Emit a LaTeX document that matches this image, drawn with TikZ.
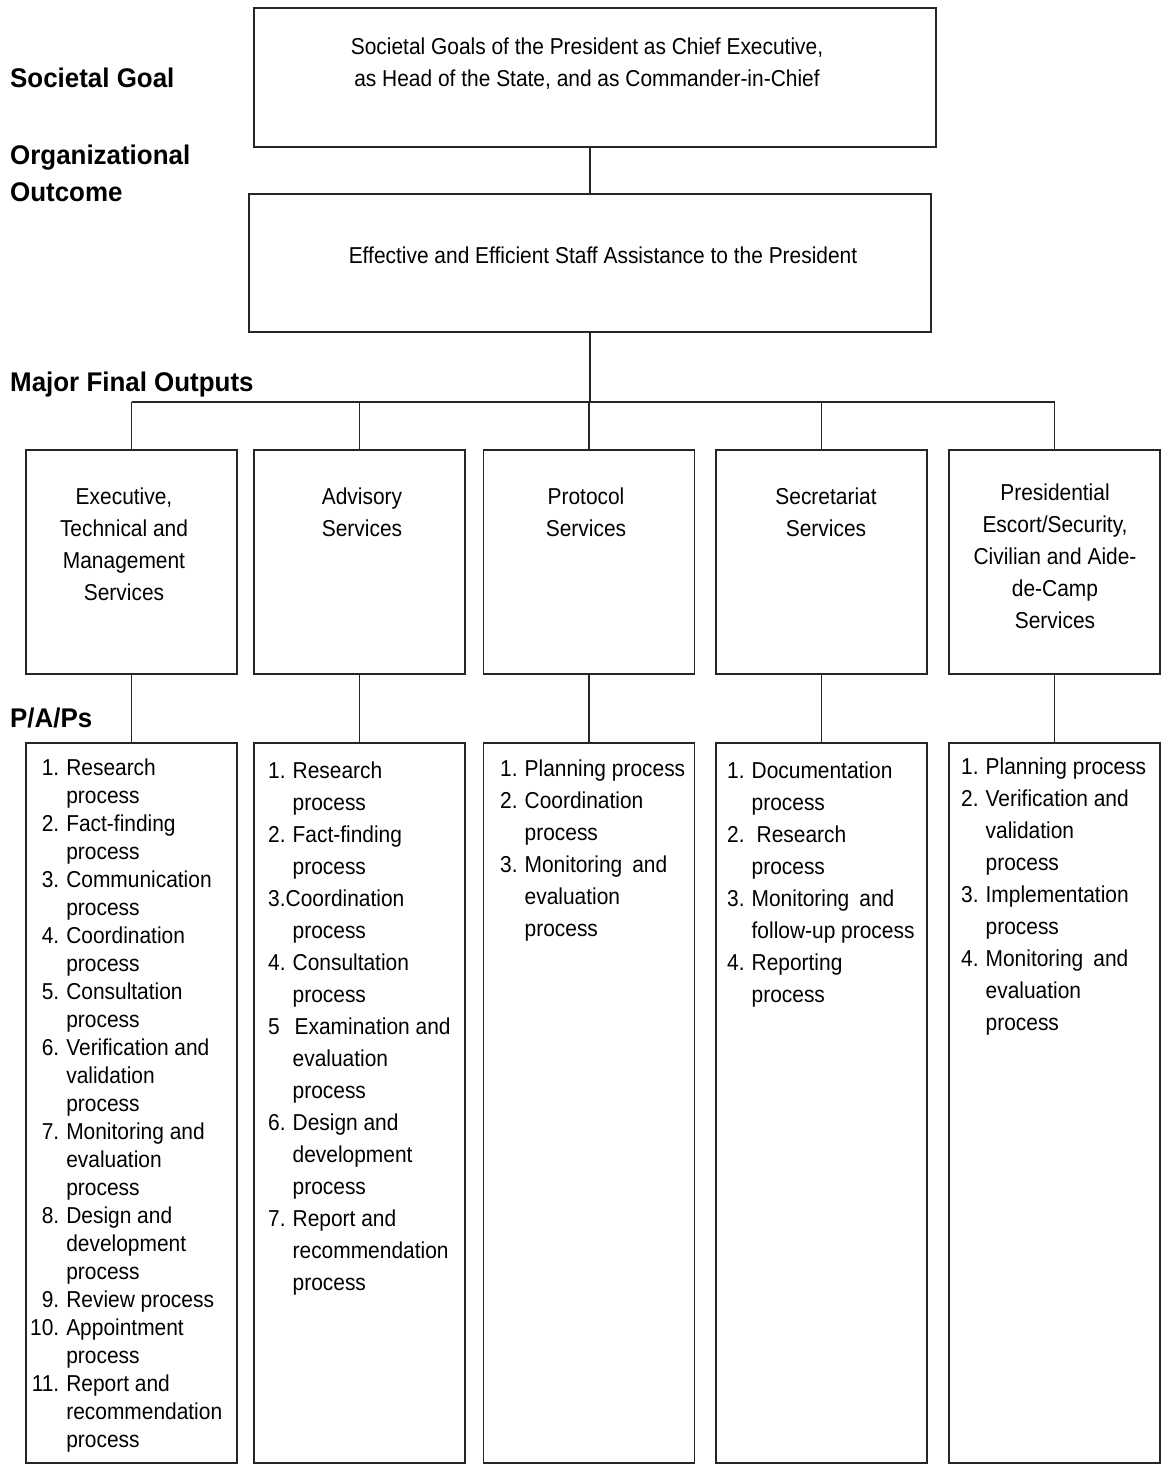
\documentclass[tikz,border=0pt]{standalone}
\usepackage{fontspec}
\setmainfont[FakeStretch=0.91, BoldFeatures={FakeStretch=0.96}]{Liberation Sans}
\usetikzlibrary{positioning}

\begin{document}
\begin{tikzpicture}[x=1pt,y=-1pt]
        \tikzset{ blk/.style ={draw=black!85, line width=1.3pt, minimum width=682pt, minimum height=139pt, inner sep=0pt} }
        \tikzset{ mfo/.style ={draw=black!85, line width=1.3pt, minimum width=211pt, minimum height=224pt, inner sep=0pt} }
        \tikzset{ pap/.style ={draw=black!85, line width=1.3pt, minimum width=211pt, minimum height=720pt, inner sep=0pt} }
        \tikzset{ txt/.style ={align=center, inner sep=0pt, font=\fontsize{23}{32}\selectfont} }
        \tikzset{ lst/.style ={anchor=north west, inner sep=0pt, font=\fontsize{23}{32}\selectfont} }
        \tikzset{ lvl/.style ={anchor=west, align=left, inner sep=0pt, font=\fontsize{27}{37}\selectfont\bfseries} }

        \tikzstyle{lnk}=[line width=1.3pt, draw=black!85]

        \newcommand\mrow{562}
        \newcommand\prow{1103}

        \useasboundingbox (0,0) rectangle (1161,1469);

        % level labels
        \node[lvl] (lv_goal) at (10,78) {Societal Goal};
        \node[lvl] (lv_out) at (10,173) {Organizational\\Outcome};
        \node[lvl] (lv_mfo) at (10,385) {Major Final Outputs};
        \node[lvl] (lv_pap) at (10,718) {P/A/Ps};

        % top boxes
        \node[blk] (goal) at (595,77.5) {};
        \node[txt] (goal_t) at (587,64) {Societal Goals of the President as Chief Executive,\\as Head of the State, and as Commander-in-Chief};
        \node[blk, minimum height=138pt] (outc) at (590,263) {};
        \node[txt] (outc_t) at (603,255) {Effective and Efficient Staff Assistance to the President};

        % major final outputs
        \node[mfo] (mfo1) at (131.5,\mrow) {};
        \node[mfo] (mfo2) at (359.5,\mrow) {};
        \node[mfo] (mfo3) at (589,\mrow) {};
        \node[mfo] (mfo4) at (821.5,\mrow) {};
        \node[mfo] (mfo5) at (1054.5,\mrow) {};

        \node[txt, anchor=north] (mfo1_t) at (124,488) {Executive,\\Technical and\\Management\\Services};
        \node[txt, anchor=north] (mfo2_t) at (362,488) {Advisory\\Services};
        \node[txt, anchor=north] (mfo3_t) at (586,488) {Protocol\\Services};
        \node[txt, anchor=north] (mfo4_t) at (826,488) {Secretariat\\Services};
        \node[txt, anchor=north] (mfo5_t) at (1055,484) {Presidential\\Escort/Security,\\Civilian and Aide-\\de-Camp\\Services};

        % links
        \coordinate (bus) at (590,402);
        \draw[lnk] (outc.north) -- (outc.north |- goal.south);
        \draw[lnk] (outc.south) -- (bus);
        \draw[lnk] (mfo1.north |- bus) -- (mfo5.north |- bus);
        \foreach \i in {1,...,5} {
            \draw[lnk] (mfo\i.north) -- (mfo\i.north |- bus);
        }

        % programs / activities / projects
        \node[pap] (pap1) at (131.5,\prow) {};
        \node[pap] (pap2) at (359.5,\prow) {};
        \node[pap] (pap3) at (589,\prow) {};
        \node[pap] (pap4) at (821.5,\prow) {};
        \node[pap] (pap5) at (1054.5,\prow) {};

        \foreach \i in {1,...,5} {
            \draw[lnk] (mfo\i.south) -- (pap\i.north);
        }

        \node[lst, font=\fontsize{23}{28}\selectfont] (pap1_t) at (30,756) {\begin{tabular}{@{}r@{\hspace{7pt}}l@{}}
            1. & Research\\ & process\\
            2. & Fact-finding\\ & process\\
            3. & Communication\\ & process\\
            4. & Coordination\\ & process\\
            5. & Consultation\\ & process\\
            6. & Verification and\\ & validation\\ & process\\
            7. & Monitoring and\\ & evaluation\\ & process\\
            8. & Design and\\ & development\\ & process\\
            9. & Review process\\
            10. & Appointment\\ & process\\
            11. & Report and\\ & recommendation\\ & process
        \end{tabular}};

        \node[lst] (pap2_t) at (268,756) {\begin{tabular}{@{}r@{\hspace{7pt}}l@{}}
            1. & Research\\ & process\\
            2. & Fact-finding\\ & process\\
            \multicolumn{2}{@{}l@{}}{3.Coordination}\\ & process\\
            4. & Consultation\\ & process\\
            5\phantom{.} & \hspace{2pt}Examination and\\ & evaluation\\ & process\\
            6. & Design and\\ & development\\ & process\\
            7. & Report and\\ & recommendation\\ & process
        \end{tabular}};

        \node[lst] (pap3_t) at (500,754) {\begin{tabular}{@{}r@{\hspace{7pt}}l@{}}
            1. & Planning process\\
            2. & Coordination\\ & process\\
            3. & Monitoring\hspace{10pt}and\\ & evaluation\\ & process
        \end{tabular}};

        \node[lst] (pap4_t) at (727,756) {\begin{tabular}{@{}r@{\hspace{7pt}}l@{}}
            1. & Documentation\\ & process\\
            2. & \hspace{5pt}Research\\ & process\\
            3. & Monitoring\hspace{10pt}and\\ & follow-up process\\
            4. & Reporting\\ & process
        \end{tabular}};

        \node[lst] (pap5_t) at (961,752) {\begin{tabular}{@{}r@{\hspace{7pt}}l@{}}
            1. & Planning process\\
            2. & Verification and\\ & validation\\ & process\\
            3. & Implementation\\ & process\\
            4. & Monitoring\hspace{10pt}and\\ & evaluation\\ & process
        \end{tabular}};
\end{tikzpicture}
\end{document}
